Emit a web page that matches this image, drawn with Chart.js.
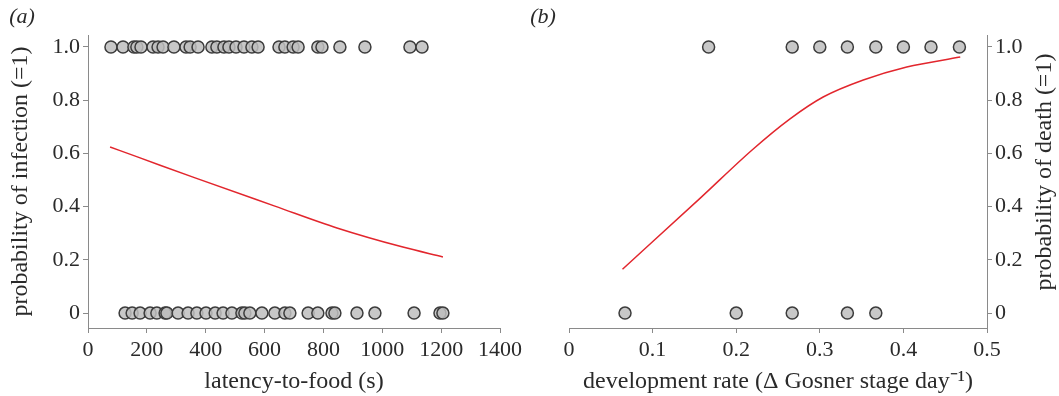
<!DOCTYPE html>
<html>
<head>
<meta charset="utf-8">
<script src="https://cdn.jsdelivr.net/npm/chart.js@4.4.0/dist/chart.umd.min.js"></script>
<style>
  body { margin: 0; background: #fff; }
  #wrap { position: relative; width: 1059px; height: 396px; }
  canvas { position: absolute; top: 0; }
</style>
</head>
<body>
<div id="wrap">
  <canvas id="chartA" width="530" height="396" style="left:0"></canvas>
  <canvas id="chartB" width="529" height="396" style="left:530px"></canvas>
</div>
<script>
// panel (a): latency-to-food (s) of tadpoles, infected (=1) or not (=0)
var latencyInfected = [78, 119, 156, 166, 180, 221, 238, 255, 292, 333, 347, 374, 421, 438, 462,
                       479, 503, 530, 557, 578, 649, 669, 697, 714, 781, 795, 856, 941, 1094, 1135];
var latencyUninfected = [126, 150, 177, 211, 234, 262, 268, 306, 340, 370, 401, 432, 459, 489, 523,
                         533, 550, 591, 635, 669, 686, 748, 781, 829, 839, 914, 975, 1108, 1196, 1206];
// fitted curve
var fitAX = [75, 170, 364, 635, 846, 1070, 1206];
var fitAY = [0.624, 0.586, 0.508, 0.402, 0.320, 0.248, 0.211];

// panel (b): development rate, dead (=1) or alive (=0)
var rateDead = [0.167, 0.267, 0.3, 0.333, 0.367, 0.4, 0.433, 0.467];
var rateAlive = [0.067, 0.2, 0.267, 0.333, 0.367];
var fitBX = [0.064, 0.157, 0.219, 0.264, 0.304, 0.352, 0.404, 0.468];
var fitBY = [0.165, 0.432, 0.613, 0.729, 0.812, 0.876, 0.925, 0.962];

var yTicks = [0, 0.2, 0.4, 0.6, 0.8, 1.0];

var axisColor = '#8a8a8a';
var textColor = '#2a2a2a';
var serif = '"Liberation Serif", "Times New Roman", serif';

Chart.defaults.font.family = serif;
Chart.defaults.color = textColor;

function pts(xs, y) {
    return xs.map(function(x) { return {x: x, y: y}; });
}
function zip(xs, ys) {
    return xs.map(function(x, i) { return {x: x, y: ys[i]}; });
}
function fmt(v) {
    return v === 0 ? '0' : v.toFixed(1);
}

var pointStyle = {
    pointRadius: 6,
    pointHoverRadius: 6,
    pointBackgroundColor: 'rgba(190,190,190,0.85)',
    pointBorderColor: '#3c3c3c',
    pointBorderWidth: 1.5,
    showLine: false
};

function fitLine(data) {
    return {
        data: data,
        showLine: true,
        borderColor: '#e2262d',
        borderWidth: 1.5,
        pointRadius: 0,
        cubicInterpolationMode: 'monotone',
        fill: false
    };
}

function gridOpts() {
    return { display: true, drawOnChartArea: false, drawTicks: true, tickLength: 5, color: axisColor };
}

function yScale(position, width) {
    return {
        type: 'linear',
        position: position,
        min: -0.056,
        max: 1.045,
        afterBuildTicks: function(scale) {
            scale.ticks = yTicks.map(function(v) { return {value: v}; });
        },
        afterFit: function(scale) { scale.width = width; },
        ticks: { font: {size: 22}, padding: 3, callback: function(v) { return fmt(v); } },
        grid: gridOpts(),
        border: { display: true, color: axisColor }
    };
}

// draws panel letters and rotated titles as canvas text
function textPlugin(items) {
    return {
        id: 'texts',
        afterDraw: function(chart) {
            var ctx = chart.ctx;
            items.forEach(function(t) {
                ctx.save();
                ctx.fillStyle = textColor;
                ctx.font = t.font;
                ctx.textAlign = 'center';
                ctx.textBaseline = 'middle';
                ctx.translate(t.x, t.y);
                if (t.rotate) ctx.rotate(t.rotate);
                ctx.fillText(t.text, 0, 0);
                ctx.restore();
            });
        }
    };
}

new Chart(document.getElementById('chartA'), {
    type: 'scatter',
    data: {
        datasets: [
            fitLine(zip(fitAX, fitAY)),
            Object.assign({ data: pts(latencyInfected, 1) }, pointStyle),
            Object.assign({ data: pts(latencyUninfected, 0) }, pointStyle)
        ]
    },
    options: {
        responsive: false,
        animation: false,
        layout: { padding: { top: 35, right: 30, left: 0, bottom: 0 } },
        plugins: { legend: { display: false }, tooltip: { enabled: false } },
        scales: {
            x: {
                type: 'linear',
                min: 0,
                max: 1400,
                afterFit: function(scale) { scale.height = 68; },
                ticks: { stepSize: 200, font: {size: 22}, padding: 4, maxRotation: 0,
                         callback: function(v) { return String(v); } },
                grid: gridOpts(),
                border: { display: true, color: axisColor },
                title: { display: true, text: 'latency-to-food (s)', font: {size: 24}, padding: 0 }
            },
            y: Object.assign(yScale('left', 88), {
                title: { display: true, text: 'probability of infection (=1)', font: {size: 24}, padding: {top: 6, bottom: 0} }
            })
        }
    },
    plugins: [textPlugin([
        { text: '(a)', x: 22, y: 17, font: 'italic 22px ' + serif }
    ])]
});

new Chart(document.getElementById('chartB'), {
    type: 'scatter',
    data: {
        datasets: [
            fitLine(zip(fitBX, fitBY)),
            Object.assign({ data: pts(rateDead, 1) }, pointStyle),
            Object.assign({ data: pts(rateAlive, 0) }, pointStyle)
        ]
    },
    options: {
        responsive: false,
        animation: false,
        layout: { padding: { top: 35, right: 0, left: 39, bottom: 0 } },
        plugins: { legend: { display: false }, tooltip: { enabled: false } },
        scales: {
            x: {
                type: 'linear',
                min: 0,
                max: 0.5,
                afterFit: function(scale) { scale.height = 68; },
                ticks: { stepSize: 0.1, font: {size: 22}, padding: 4, maxRotation: 0,
                         callback: function(v) { return fmt(v); } },
                grid: gridOpts(),
                border: { display: true, color: axisColor },
                title: { display: true, text: 'development rate (\u0394 Gosner stage day\u207B\u00B9)', font: {size: 24}, padding: 0 }
            },
            y: yScale('right', 72)
        }
    },
    plugins: [textPlugin([
        { text: '(b)', x: 13, y: 17, font: 'italic 22px ' + serif },
        { text: 'probability of death (=1)', x: 515, y: 172, rotate: -Math.PI / 2, font: '24px ' + serif }
    ])]
});
</script>
</body>
</html>
